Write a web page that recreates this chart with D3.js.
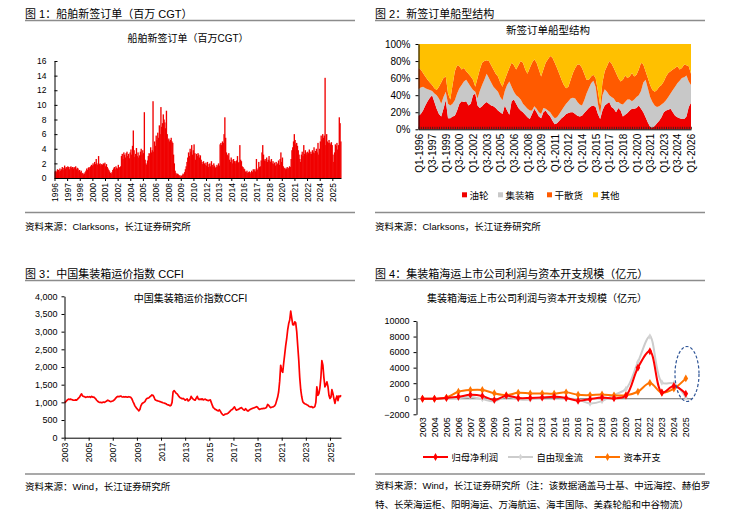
<!DOCTYPE html>
<html><head><meta charset="utf-8">
<script src="https://cdn.jsdelivr.net/npm/d3@7"></script>
<style>
body{margin:0;background:#fff;}
svg{display:block;font-family:"Liberation Sans","Noto Sans CJK SC",sans-serif;}
</style></head><body>
<svg id="c" width="739" height="521"></svg>
<script>
// ---------- Figure 1: monthly new orders (million CGT), 1996-01 .. 2026-03 ----------
const newOrders = [
 0.9,1.0,0.8,1.2,1.1,0.9,1.3,1.0,1.2,1.5,1.1,1.4,
 1.7,1.3,1.5,1.4,1.6,1.5,1.2,1.5,1.6,1.4,1.5,1.3,
 1.5,1.4,1.6,1.2,1.4,1.3,1.0,1.1,0.8,1.0,0.6,0.7,
 0.5,0.6,0.8,1.0,1.3,1.1,1.4,1.5,1.3,1.6,1.8,1.7,
 2.0,1.8,2.2,1.9,2.6,2.0,1.8,3.0,1.9,2.0,1.7,1.9,
 1.8,2.0,1.9,2.1,1.6,1.9,1.5,1.3,1.1,0.9,0.7,0.6,
 0.8,1.1,1.3,1.5,1.2,1.6,1.4,1.3,1.8,1.5,1.4,1.6,
 3.0,3.3,2.6,3.5,3.2,2.8,3.4,3.6,3.0,3.3,2.7,3.5,
 3.9,3.2,4.4,6.5,3.8,2.9,3.3,4.1,3.0,3.5,2.8,3.1,
 3.6,4.0,3.2,3.8,3.4,9.0,2.5,2.0,1.8,2.4,3.0,3.4,
 3.3,4.2,3.5,3.8,10.5,3.6,5.0,4.4,5.8,5.2,6.2,5.5,
 7.2,6.0,9.7,7.0,7.5,8.7,8.0,7.6,6.8,9.2,6.0,5.2,
 5.4,5.0,5.2,5.5,5.0,4.8,3.2,2.0,1.0,0.7,0.5,0.6,
 0.5,0.3,0.4,0.2,0.3,0.4,0.6,0.5,0.8,1.2,1.6,2.2,
 2.8,3.5,3.0,4.0,3.6,4.5,3.2,3.8,4.6,3.4,2.5,3.3,
 3.0,3.4,3.2,2.8,3.1,2.5,2.2,1.9,2.3,2.0,1.8,2.1,
 1.7,2.2,1.5,1.9,2.0,1.6,2.3,1.8,1.5,2.0,1.7,1.4,
 1.5,1.8,1.6,2.0,1.7,4.6,4.8,4.5,5.0,4.8,6.0,8.3,
 5.5,3.5,3.2,3.0,3.4,2.5,2.2,2.8,2.5,2.0,2.6,2.3,
 2.3,2.0,2.4,3.0,2.1,2.2,4.5,2.5,2.3,1.6,1.5,1.3,
 1.2,0.9,0.8,1.0,0.7,0.8,0.9,0.6,0.8,1.0,0.8,1.2,
 1.0,1.2,0.9,2.6,1.1,1.3,2.2,1.5,1.6,2.4,3.5,4.5,
 3.2,2.4,2.6,2.3,2.8,2.2,2.5,3.0,2.4,2.2,2.6,2.0,
 2.3,1.9,2.1,1.7,2.2,1.8,2.0,2.4,1.8,2.6,3.5,2.2,
 2.8,1.6,1.3,1.4,1.2,1.3,1.5,1.2,1.4,1.6,1.5,2.6,
 3.8,4.2,5.0,6.0,5.2,4.6,4.8,4.4,3.8,3.2,2.6,2.2,
 3.2,3.6,3.0,4.5,3.3,3.8,3.5,3.2,3.6,3.4,3.9,3.3,
 3.6,3.3,3.8,3.5,4.2,3.4,3.7,4.0,3.5,4.8,3.2,4.0,
 5.0,5.8,5.3,6.0,5.5,5.8,13.7,4.5,6.0,5.0,4.8,5.2,
 4.8,4.6,4.9,4.5,3.2,2.2,3.5,4.6,4.4,4.8,3.9,4.5,
 8.3,7.5,5.0
];
const fig1TickLabels = ["1996","1997","1998","2000","2001","2002","2004","2005","2006","2008","2009","2010",
 "2012","2013","2014","2016","2017","2018","2020","2021","2022","2024","2025"];
const fig1TickStep = 16; // one label every 16 months
const fig1YTicks = [0,2,4,6,8,10,12,14,16];

// ---------- Figure 2: quarterly order mix (%), Q1-1996 .. Q1-2026 ----------
const tankerShare = [16,18,22,28,33,37,40,32,24,18,15,24,34,13,13,15,16,22,30,33,32,33,28,30,40,42,28,25,27,30,
 32,30,28,27,25,22,20,18,28,22,17,33,35,30,25,22,20,17,14,12,18,24,20,15,13,20,22,18,15,10,
 6,7,10,13,15,18,19,20,20,18,16,15,16,19,22,25,27,28,26,18,12,22,28,30,32,26,24,20,25,22,
 15,17,19,22,24,24,25,28,24,20,14,8,3,2,4,7,10,14,20,22,23,24,20,16,14,13,12,12,15,26,31];
const containerShare = [31,31,28,20,14,9,5,10,16,18,15,14,10,17,15,15,18,20,18,19,24,25,26,20,6,2,8,20,25,28,
 33,30,27,23,22,22,18,16,17,30,39,17,9,10,13,13,10,10,10,10,4,3,4,5,5,5,2,4,5,6,
 7,7,8,9,11,12,14,16,17,18,16,14,12,15,20,23,27,29,24,12,6,18,19,14,8,12,12,12,7,8,
 14,15,16,13,9,11,13,12,21,35,44,40,35,30,24,19,17,15,11,12,15,18,26,34,40,44,48,49,48,30,21];
const bulkShare = [25,21,16,14,11,9,7,6,6,14,25,22,18,12,7,22,34,33,26,18,16,10,11,12,12,6,24,25,26,22,
 16,20,20,20,18,18,17,16,13,13,16,28,31,30,37,45,48,43,41,50,56,55,54,50,44,45,54,60,66,68,
 65,58,47,36,26,18,17,22,29,36,44,47,44,31,16,10,8,7,10,15,10,15,21,30,40,39,36,34,28,26,
 29,31,25,27,33,27,26,30,33,21,10,12,14,14,16,20,23,23,25,28,28,26,24,22,20,13,12,15,12,18,13];
const otherShare = [28,30,34,38,42,45,48,52,54,50,45,40,38,58,65,48,32,25,26,30,28,32,35,38,42,50,40,30,22,20,
 19,20,25,30,35,38,45,50,42,35,28,22,25,30,25,20,22,30,35,28,22,18,22,30,38,30,22,18,14,16,
 22,28,35,42,48,52,50,42,34,28,24,24,28,35,42,42,38,36,40,55,72,45,32,26,20,23,28,34,40,44,
 42,37,40,38,34,38,36,30,22,24,32,40,48,54,56,54,50,48,44,38,34,32,30,28,26,30,28,24,25,26,35];
const fig2TickLabels = ["Q1-1996","Q3-1997","Q1-1999","Q3-2000","Q1-2002","Q3-2003","Q1-2005","Q3-2006","Q1-2008",
 "Q3-2009","Q1-2011","Q3-2012","Q1-2014","Q3-2015","Q1-2017","Q3-2018","Q1-2020","Q3-2021","Q1-2023","Q3-2024","Q1-2026"];
const fig2TickStep = 6;
const fig2Keys = ["油轮","集装箱","干散货","其他"];
const fig2Colors = ["#f00000","#c8c8c8","#ff5a00","#ffc000"];

// ---------- Figure 3: CCFI monthly, 2003-01 .. 2025-12 ----------
const ccfi = [
 990,1010,1040,1070,1090,1080,1090,1080,1070,1060,1060,1070,
 1060,1090,1120,1150,1200,1240,1180,1170,1160,1140,1150,1160,
 1150,1160,1140,1170,1150,1150,1130,1100,1060,1030,1010,1000,
 1000,990,1000,1010,1000,1020,1040,1060,1050,1030,1020,1030,
 1040,1060,1080,1120,1150,1170,1160,1170,1180,1160,1150,1160,
 1150,1160,1150,1150,1160,1150,1140,1100,1030,970,900,860,
 820,790,760,800,900,960,980,1000,1020,1080,1110,1120,
 1130,1160,1180,1210,1200,1150,1080,1060,1050,1040,1030,1020,
 1010,1000,990,980,970,960,940,930,920,900,920,1000,
 1300,1330,1300,1260,1240,1200,1160,1130,1120,1100,1110,1090,
 1060,1080,1100,1040,1060,1090,1170,1120,1090,1070,1060,1120,
 1170,1100,1080,1090,1080,1100,1070,1080,1090,1070,1060,1050,
 1060,1070,1000,920,850,830,800,790,770,760,790,750,
 700,660,640,650,670,670,680,700,730,760,790,800,
 840,870,820,780,790,800,820,840,850,820,790,780,
 820,790,760,760,790,800,820,830,840,850,860,880,
 860,820,800,810,820,820,830,830,840,860,940,920,
 880,850,860,870,880,900,950,1050,1150,1300,1600,2050,
 1900,1850,2100,2350,2600,2800,3050,3230,3330,3580,3380,3200,
 3190,3280,3250,3000,2600,2200,1700,1350,1150,1020,980,960,
 950,930,920,890,880,870,880,850,860,880,1000,1440,
 1200,1250,1400,1700,2180,2050,1700,1440,1500,1580,1450,1200,
 1110,1150,1360,1250,1100,970,1100,1180,1050,1180,1160,1200
];
const fig3YearTicks = [2003,2005,2007,2009,2011,2013,2015,2017,2019,2021,2023,2025];
const fig3YTicks = [0,500,1000,1500,2000,2500,3000,3500,4000];

// ---------- Figure 4: listed container liners (亿元) ----------
const fig4Years = ["2003","2004","2005","2006","2007","2008","2009","2010","2011","2012","2013","2014",
 "2015","2016","2017","2018","2019","2020","2021","2022","2023","2024","2025"];
const netProfit = [0,0,100,250,500,350,-150,400,100,100,150,250,100,-250,-50,150,50,400,4000,6100,800,1650,650];
const freeCashFlow = [0,0,50,100,250,-50,-300,300,-50,-100,200,300,50,-100,-600,-300,500,1250,4700,8000,2100,1950,200];
const capex = [0,0,150,900,1120,1120,700,470,770,690,690,650,820,510,470,560,430,450,900,2020,770,1300,2620];
const fig4YTicks = [-2000,0,2000,4000,6000,8000,10000];

// =====================================================================
const svg = d3.select("#c");
function txt(x, y, s, size, anchor) {
  return svg.append("text").attr("x", x).attr("y", y).attr("font-size", size)
    .attr("text-anchor", anchor || "start").attr("fill", "#000").text(s);
}
function rule(x1, x2, y) {
  svg.append("line").attr("x1", x1).attr("x2", x2).attr("y1", y).attr("y2", y)
    .attr("stroke", "#8c8c8c").attr("stroke-width", 1.4);
}
function styleAxis(g, size) {
  g.attr("font-family", null).attr("font-size", size);
  g.selectAll("path,line").attr("stroke", "#000");
  g.selectAll("text").attr("fill", "#000");
}
function rotateLabels(g, off) {
  g.selectAll("text").attr("transform", "rotate(-90)").attr("x", -off).attr("y", 0)
    .attr("dy", "0.35em").attr("text-anchor", "end");
}

// headers & footers
txt(25, 18, "图 1：船舶新签订单（百万 CGT）", 11); rule(25, 355, 20.5);
txt(375, 18, "图 2：新签订单船型结构", 11); rule(375, 705, 20.5);
txt(25, 277.5, "图 3：中国集装箱运价指数 CCFI", 11); rule(25, 355, 280.5);
txt(375, 277.5, "图 4：集装箱海运上市公司利润与资本开支规模（亿元）", 11); rule(375, 705, 280.5);
rule(25, 355, 212.5); txt(25, 230, "资料来源：Clarksons，长江证券研究所", 9.5);
rule(375, 705, 212.5); txt(375, 230, "资料来源：Clarksons，长江证券研究所", 9.5);
rule(25, 355, 474); txt(25, 490, "资料来源：Wind，长江证券研究所", 9.5);
rule(375, 705, 474);
txt(375, 489, "资料来源：Wind，长江证券研究所（注：该数据涵盖马士基、中远海控、赫伯罗", 9.5);
txt(375, 507.5, "特、长荣海运柜、阳明海运、万海航运、海丰国际、美森轮船和中谷物流）", 9.5);

// ---------------- Figure 1 ----------------
{
  txt(188, 41.5, "船舶新签订单（百万CGT）", 10, "middle");
  const x = d3.scaleBand().domain(d3.range(newOrders.length)).range([54.5, 341]).padding(0);
  const y = d3.scaleLinear().domain([0, 16]).range([178, 61]);
  svg.append("g").selectAll("rect").data(newOrders).join("rect")
    .attr("x", (d, i) => x(i)).attr("y", d => y(d))
    .attr("width", x.bandwidth() + 0.55).attr("height", d => y(0) - y(d))
    .attr("fill", "#f00000");
  const ay = svg.append("g").attr("transform", "translate(54.5,0)")
    .call(d3.axisLeft(y).tickValues(fig1YTicks).tickSizeInner(-3).tickSizeOuter(0).tickPadding(8));
  styleAxis(ay, 8.5);
  const tickIdx = fig1TickLabels.map((_, k) => k * fig1TickStep);
  const ax = svg.append("g").attr("transform", "translate(0,178)")
    .call(d3.axisBottom(x).tickValues(tickIdx).tickFormat((d, i) => fig1TickLabels[i]).tickSize(3).tickSizeOuter(0));
  styleAxis(ax, 8.5);
  rotateLabels(ax, 5);
}

// ---------------- Figure 2 ----------------
{
  txt(548, 33.5, "新签订单船型结构", 10.5, "middle");
  const rows = tankerShare.map((v, i) => ({ i, "油轮": v, "集装箱": containerShare[i], "干散货": bulkShare[i], "其他": otherShare[i] }));
  const series = d3.stack().keys(fig2Keys).offset(d3.stackOffsetExpand)(rows);
  const x = d3.scaleLinear().domain([0, rows.length - 1]).range([418.5, 691]);
  const y = d3.scaleLinear().domain([0, 1]).range([129.3, 44]);
  const area = d3.area().x(d => x(d.data.i)).y0(d => y(d[0])).y1(d => y(d[1]));
  svg.append("g").selectAll("path").data(series).join("path")
    .attr("d", area).attr("fill", (d, i) => fig2Colors[i]);
  const ay = svg.append("g").attr("transform", "translate(418.5,0)")
    .call(d3.axisLeft(y).tickValues([0, .2, .4, .6, .8, 1]).tickFormat(d3.format(".0%")).tickSize(3).tickPadding(5).tickSizeOuter(0));
  styleAxis(ay, 10);
  const axt = svg.append("g").attr("transform", "translate(0,129.3)")
    .call(d3.axisBottom(x).tickValues(d3.range(rows.length)).tickFormat("").tickSizeInner(-2.5).tickSizeOuter(0));
  styleAxis(axt, 10);
  axt.selectAll("line").attr("stroke", "#222").attr("stroke-width", 0.8);
  const ax = svg.append("g").attr("transform", "translate(0,129.3)")
    .call(d3.axisBottom(x).tickValues(fig2TickLabels.map((_, k) => k * fig2TickStep))
      .tickFormat((d, i) => fig2TickLabels[i]).tickSize(0).tickSizeOuter(0));
  styleAxis(ax, 10);
  ax.select(".domain").remove();
  rotateLabels(ax, 4.5);
  // legend
  const lx = [462, 498, 547, 593];
  fig2Keys.forEach((k, i) => {
    svg.append("rect").attr("x", lx[i]).attr("y", 192.3).attr("width", 5).attr("height", 5).attr("fill", fig2Colors[i]);
    txt(lx[i] + 7.5, 198.5, k, 9.5);
  });
}

// ---------------- Figure 3 ----------------
{
  txt(190.5, 301.5, "中国集装箱运价指数CCFI", 10, "middle");
  const dates = ccfi.map((_, i) => new Date(2003, i, 1));
  const x = d3.scaleTime().domain([dates[0], dates[dates.length - 1]]).range([64.5, 341]);
  const y = d3.scaleLinear().domain([0, 4000]).range([437.7, 296.3]);
  svg.append("path").datum(ccfi)
    .attr("d", d3.line().x((d, i) => x(dates[i])).y(d => y(d)))
    .attr("fill", "none").attr("stroke", "#ff0000").attr("stroke-width", 1.7).attr("stroke-linejoin", "round");
  const ay = svg.append("g").attr("transform", "translate(64.5,0)")
    .call(d3.axisLeft(y).tickValues(fig3YTicks).tickFormat(d3.format(",")).tickSize(3).tickPadding(4).tickSizeOuter(0));
  styleAxis(ay, 9);
  const ax = svg.append("g").attr("transform", "translate(0,437.7)")
    .call(d3.axisBottom(x).tickValues(fig3YearTicks.map(yr => new Date(yr, 0, 1)))
      .tickFormat(d3.timeFormat("%Y")).tickSize(3).tickSizeOuter(0));
  styleAxis(ax, 8.8);
  rotateLabels(ax, 5);
}

// ---------------- Figure 4 ----------------
{
  txt(537, 302, "集装箱海运上市公司利润与资本开支规模（亿元）", 10, "middle");
  const x = d3.scaleBand().domain(fig4Years).range([416.5, 691.8]);
  const y = d3.scaleLinear().domain([-2000, 10000]).range([414.3, 321]);
  const cx = d => x(d) + x.bandwidth() / 2;
  const ay = svg.append("g").attr("transform", "translate(416.5,0)")
    .call(d3.axisLeft(y).tickValues(fig4YTicks).tickFormat(d3.format("d")).tickSize(3).tickPadding(4).tickSizeOuter(0));
  styleAxis(ay, 9);
  svg.append("line").attr("x1", 416.5).attr("x2", 691.8).attr("y1", y(0)).attr("y2", y(0))
    .attr("stroke", "#6e6e6e").attr("stroke-width", 1.2);
  const ax = svg.append("g").attr("transform", "translate(0," + y(-2000) + ")")
    .call(d3.axisBottom(x).tickSize(0).tickSizeOuter(0));
  styleAxis(ax, 9);
  ax.select(".domain").remove();
  rotateLabels(ax, 3);

  const defs = [
    { vals: freeCashFlow, color: "#cccccc", mark: "#d4d4d4", ms: 12, name: "自由现金流", lx: 508 },
    { vals: capex, color: "#ff7300", mark: "#ff7300", ms: 18, name: "资本开支", lx: 595 },
    { vals: netProfit, color: "#ff0000", mark: "#ff0000", ms: 18, name: "归母净利润", lx: 423 }
  ];
  const line = d3.line().x((d, i) => cx(fig4Years[i])).y(d => y(d)).curve(d3.curveCatmullRom.alpha(0.5));
  defs.forEach(s => {
    svg.append("path").datum(s.vals).attr("d", line).attr("fill", "none")
      .attr("stroke", s.color).attr("stroke-width", 2);
    svg.append("g").selectAll("path").data(s.vals).join("path")
      .attr("transform", (d, i) => `translate(${cx(fig4Years[i])},${y(d)})`)
      .attr("d", d3.symbol(d3.symbolDiamond, s.ms)).attr("fill", s.mark);
    // legend
    svg.append("line").attr("x1", s.lx).attr("x2", s.lx + 25).attr("y1", 457).attr("y2", 457)
      .attr("stroke", s.color).attr("stroke-width", 2);
    svg.append("path").attr("transform", `translate(${s.lx + 12.5},457)`)
      .attr("d", d3.symbol(d3.symbolDiamond, s.ms)).attr("fill", s.mark);
    txt(s.lx + 28.5, 460.5, s.name, 9.3);
  });
  svg.append("ellipse").attr("cx", 687).attr("cy", 374).attr("rx", 12).attr("ry", 27.5)
    .attr("fill", "none").attr("stroke", "#2f5597").attr("stroke-width", 1.2).attr("stroke-dasharray", "3,2");
}
</script>
</body></html>
